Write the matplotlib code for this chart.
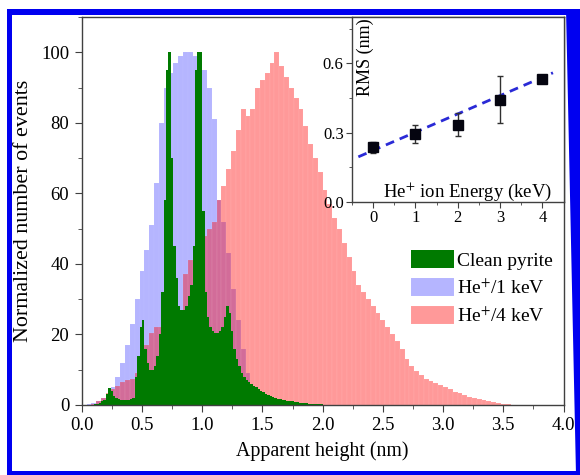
"""Apparent height histograms for clean and He+ irradiated pyrite, with RMS inset."""
import matplotlib
matplotlib.use("Agg")
import matplotlib.pyplot as plt
import numpy as np
from matplotlib.patches import Polygon
from matplotlib.ticker import MultipleLocator

plt.rcParams["font.family"] = ["Liberation Serif", "DejaVu Serif"]
plt.rcParams["mathtext.fontset"] = "stix"

# histogram bins (nm)
BIN_WIDE = 0.04
BIN_FINE = 0.02

# He+/1 keV, starting at 0.04 nm, bin width 0.04
he1_start = 0.04
he1_counts = [0.3, 0.7, 1.2, 2, 3, 5, 8, 12, 17, 23, 30, 38, 44, 51,
              63, 80, 90, 94, 97, 99, 100, 100, 99, 98, 95, 90, 81,
              58, 52, 43, 33, 24, 16, 9, 5, 2, 0.8, 0.3]

# He+/4 keV, starting at 0.08 nm, bin width 0.04
he4_start = 0.08
he4_counts = [0.3, 1, 2, 3.5, 4.5, 5.5, 6.5, 7, 7.5, 9, 13, 17, 20.5, 22,
              22, 23, 24, 24, 25, 37, 41, 43, 46, 48, 50, 52, 58, 62, 67,
              72, 78, 84, 82, 84, 90, 92, 94, 97, 100, 96, 93, 90, 87, 84,
              79, 74, 70, 66, 61, 57, 53, 50, 46, 42, 38, 34, 32, 30, 28,
              26, 24, 22, 20, 18, 16, 13, 11, 9.5, 8.5, 7.5, 6.8, 6.2, 5.6,
              5, 4.4, 3.8, 3.3, 2.8, 2.4, 2, 1.7, 1.4, 1.1, 0.8, 0.6, 0.4,
              0.25, 0.1]

# clean pyrite, starting at 0.10 nm, bin width 0.02
clean_start = 0.10
clean_counts = [0.2, 0.4, 0.6, 1, 1.5, 3, 4.8, 4, 2.5, 2, 1.6, 1.4, 1.4,
                1.3, 1.5, 1.8, 2, 8, 14, 22, 24, 16, 12, 10, 10, 11, 14,
                20, 32, 58, 95, 100, 70, 45, 36, 28, 27, 27, 28, 31, 34,
                45, 95, 100, 100, 55, 32, 25, 22, 21, 20.5, 20.5, 21, 22,
                25, 28, 26, 21, 16, 13, 11, 9, 8, 7.2, 6.6, 6, 5.5, 5, 4.5,
                4, 3.6, 3.2, 2.8, 2.5, 2.3, 2, 1.8, 1.6, 1.5, 1.4, 1.2, 1.1,
                1, 0.9, 0.8, 0.7, 0.6, 0.5, 0.45, 0.4, 0.35, 0.3, 0.25, 0.2,
                0.15]

# inset: RMS roughness vs ion energy
energy_kev = [0, 1, 2, 3, 4]
rms_nm = [0.236, 0.295, 0.335, 0.443, 0.533]
rms_err = [0.025, 0.038, 0.051, 0.10, 0.012]
fit_slope, fit_icept = 0.079, 0.223
fit_range = [-0.35, 4.25]

GREEN = "#007a00"
BLUE_FILL = (0.0, 0.0, 1.0, 0.29)
RED_FILL = (1.0, 0.0, 0.0, 0.40)
SPINE = "#404040"
FRAME = "#0000f0"
W, H = 580, 475


def edges(start, width, n):
    return start + width * np.arange(n)


fig = plt.figure(figsize=(W / 100, H / 100), dpi=100)
ax = fig.add_axes([0.1409, 0.1474, 0.8307, 0.8168])

ax.bar(edges(he1_start, BIN_WIDE, len(he1_counts)), he1_counts, BIN_WIDE,
       align="edge", color=BLUE_FILL, edgecolor=(1, 1, 1, 0.12), lw=0.3,
       label="He$^{+}$/1 keV")
ax.bar(edges(he4_start, BIN_WIDE, len(he4_counts)), he4_counts, BIN_WIDE,
       align="edge", color=RED_FILL, edgecolor=(1, 1, 1, 0.15), lw=0.3,
       label="He$^{+}$/4 keV")
ax.bar(edges(clean_start, BIN_FINE, len(clean_counts)), clean_counts,
       BIN_FINE, align="edge", color=GREEN, lw=0, label="Clean pyrite")

ax.set_xlim(0, 4.0)
ax.set_ylim(0, 110)
ax.xaxis.set_major_locator(MultipleLocator(0.5))
ax.xaxis.set_minor_locator(MultipleLocator(0.25))
ax.yaxis.set_major_locator(MultipleLocator(20))
ax.yaxis.set_minor_locator(MultipleLocator(10))
ax.tick_params(which="both", direction="out", color=SPINE, top=False,
               right=False, labelsize=13.5, pad=4)
ax.tick_params(which="major", length=5)
ax.tick_params(which="minor", length=3)
for s in ax.spines.values():
    s.set_color(SPINE)
    s.set_linewidth(1.0)
ax.set_xlabel("Apparent height (nm)", fontsize=14.3, labelpad=5)
ax.set_ylabel("Normalized number of events", fontsize=15.8)
ax.yaxis.set_label_coords(-0.102, 0.5)

handles, labels = ax.get_legend_handles_labels()
order = [2, 0, 1]
ax.legend([handles[i] for i in order], [labels[i] for i in order],
          loc="upper left", bbox_to_anchor=(0.683, 0.40), frameon=False,
          fontsize=14, handlelength=2.2, handleheight=1.08,
          handletextpad=0.2, labelspacing=0.42, borderpad=0,
          borderaxespad=0)

# inset
ins = fig.add_axes([0.6069, 0.5747, 0.3647, 0.3895])
ins.set_facecolor("white")
fx = np.array(fit_range)
ins.plot(fx, fit_icept + fit_slope * fx, ls=(0, (3.2, 2.2)), lw=2.0,
         color="#2a2ad6", zorder=2)
ins.errorbar(energy_kev, rms_nm, yerr=rms_err, fmt="s", ms=7,
             color="#050510", ecolor="#303030", elinewidth=1, capsize=2,
             zorder=3)
ins.set_xlim(-0.5, 4.5)
ins.set_ylim(0, 0.8)
ins.xaxis.set_major_locator(MultipleLocator(1))
ins.xaxis.set_minor_locator(MultipleLocator(0.5))
ins.yaxis.set_major_locator(MultipleLocator(0.3))
ins.yaxis.set_minor_locator(MultipleLocator(0.15))
ins.tick_params(which="both", direction="out", color=SPINE, top=False,
                right=False, labelsize=12, pad=2)
ins.tick_params(which="major", length=4)
ins.tick_params(which="minor", length=2)
for s in ins.spines.values():
    s.set_color(SPINE)
    s.set_linewidth(1.0)
# axis titles sit inside the inset frame
ins.text(0.062, 0.785, "RMS (nm)", transform=ins.transAxes, rotation=90,
         ha="center", va="center", fontsize=13)
ins.text(0.946, 0.03, "He$^{+}$ ion Energy (keV)", transform=ins.transAxes,
         ha="right", va="baseline", fontsize=13.5)

# blue frame: top, left, right, bottom strips, corners in pixels from top-left
frame_strips = [
    [(7, 9), (577, 9), (577, 15), (7, 15)],
    [(7, 9), (12, 9), (12, 475), (7, 475)],
    [(566, 9), (580, 9), (580, 475), (576, 475)],
    [(7, 471), (580, 471), (580, 475), (7, 475)],
]
for pts in frame_strips:
    fig.patches.append(Polygon([(x / W, 1 - y / H) for x, y in pts],
                               closed=True, transform=fig.transFigure,
                               color=FRAME, lw=0, zorder=10))

fig.savefig("out.png", dpi=100, facecolor="white")
